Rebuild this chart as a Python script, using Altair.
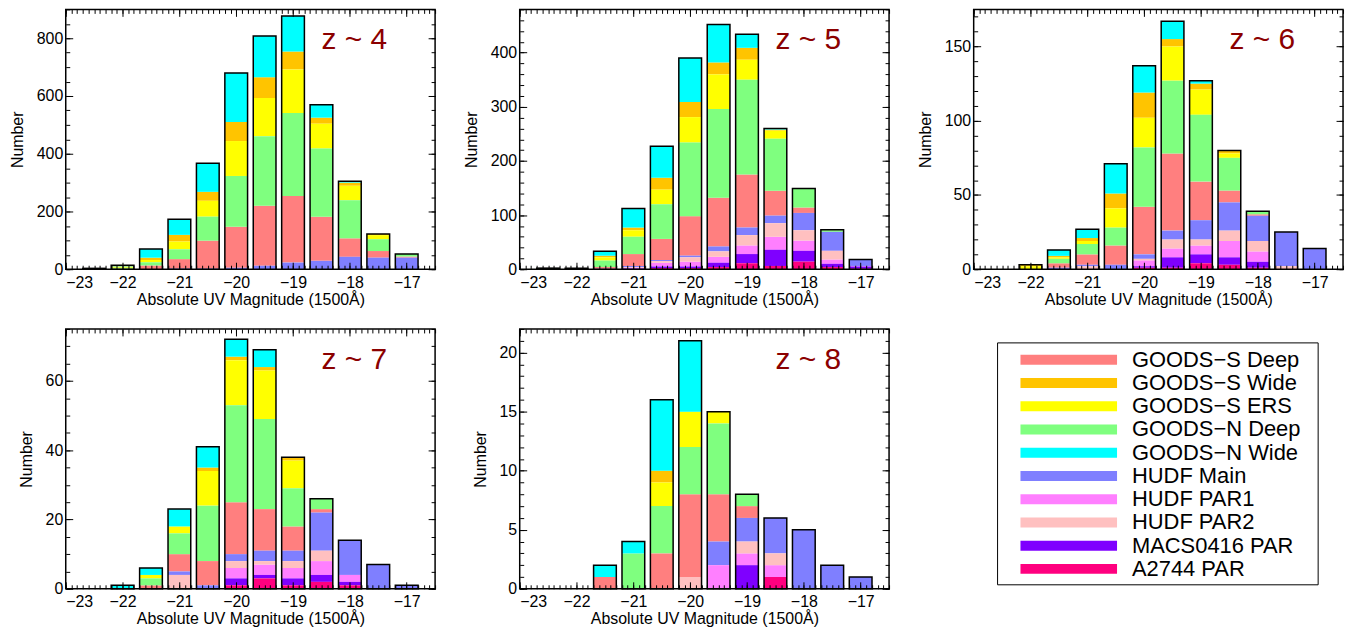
import altair as alt
import pandas as pd

# ---------------- data ----------------
SURVEYS = ["GOODS−S Deep", "GOODS−S Wide", "GOODS−S ERS", "GOODS−N Deep", "GOODS−N Wide",
           "HUDF Main", "HUDF PAR1", "HUDF PAR2", "MACS0416 PAR", "A2744 PAR"]
COLORS = ["#ff7f7f", "#ffc400", "#ffff00", "#7fff7f", "#00ffff",
          "#7f7fff", "#ff7fff", "#ffc0c0", "#7f00ff", "#ff007f"]
# stacking order, bottom to top
STACK_ORDER = ["A2744 PAR", "MACS0416 PAR", "HUDF PAR1", "HUDF PAR2", "HUDF Main",
               "GOODS−S Deep", "GOODS−N Deep", "GOODS−S ERS", "GOODS−S Wide", "GOODS−N Wide"]

MAGS = [-22.5, -22.0, -21.5, -21.0, -20.5, -20.0, -19.5, -19.0, -18.5, -18.0, -17.5, -17.0]

Z4 = {
    "GOODS−S Deep": [1, 2, 13, 33, 97, 142, 208, 231, 153, 64, 23, 4],
    "GOODS−S Wide": [0, 2, 8, 23, 31, 66, 72, 62, 21, 11, 4, 0],
    "GOODS−S ERS":  [0, 3, 8, 27, 55, 121, 132, 151, 86, 50, 14, 0],
    "GOODS−N Deep": [2, 3, 11, 34, 83, 176, 241, 287, 236, 132, 41, 9],
    "GOODS−N Wide": [0, 4, 30, 54, 99, 170, 143, 123, 45, 5, 0, 0],
    "HUDF Main":    [0, 0, 0, 2, 2, 5, 12, 23, 29, 43, 40, 40],
}
Z5 = {
    "GOODS−S Deep": [0, 0, 3, 22, 39, 73, 90, 98, 46, 10, 0, 0],
    "GOODS−S Wide": [0, 0, 3, 5, 22, 28, 22, 22, 2, 0, 0, 0],
    "GOODS−S ERS":  [0, 0, 6, 12, 27, 47, 64, 37, 15, 0, 1, 0],
    "GOODS−N Deep": [1, 1, 12, 32, 64, 136, 164, 175, 96, 35, 3, 0],
    "GOODS−N Wide": [1, 1, 8, 35, 58, 81, 70, 25, 2, 0, 0, 0],
    "HUDF Main":    [0, 0, 0, 2, 2, 3, 9, 14, 14, 32, 35, 12],
    "HUDF PAR1":    [0, 0, 1, 2, 7, 9, 11, 16, 24, 19, 8, 1],
    "HUDF PAR2":    [0, 0, 0, 1, 3, 8, 10, 19, 25, 19, 16, 0],
    "MACS0416 PAR": [0, 0, 0, 1, 3, 3, 8, 17, 30, 20, 6, 4],
    "A2744 PAR":    [0, 0, 0, 0, 2, 2, 4, 11, 6, 14, 4, 1],
}
Z6 = {
    "GOODS−S Deep": [0, 0, 3, 7, 13, 32, 52, 26, 8, 1, 0, 0],
    "GOODS−S Wide": [0, 1, 1, 2, 10, 17, 5, 4, 2, 0, 0, 0],
    "GOODS−S ERS":  [0, 2, 1, 2, 13, 20, 23, 17, 3, 0, 0, 0],
    "GOODS−N Deep": [0, 0, 3, 7, 12, 40, 49, 45, 22, 2, 0, 0],
    "GOODS−N Wide": [0, 0, 4, 6, 20, 18, 12, 2, 0, 0, 0, 0],
    "HUDF Main":    [0, 0, 1, 1, 3, 3, 6, 13, 19, 17, 23, 14],
    "HUDF PAR1":    [0, 0, 0, 0, 0, 4, 6, 6, 11, 7, 0, 0],
    "HUDF PAR2":    [0, 0, 0, 2, 0, 1, 6, 4, 7, 7, 2, 0],
    "MACS0416 PAR": [0, 0, 0, 0, 0, 1, 7, 6, 5, 4, 0, 0],
    "A2744 PAR":    [0, 0, 0, 0, 0, 1, 1, 4, 3, 1, 0, 0],
}
Z7 = {
    "GOODS−S Deep": [0, 0, 1, 5, 7, 15, 12, 7, 1, 0, 0, 0],
    "GOODS−S Wide": [0, 0, 0, 0, 1, 1, 1, 1, 0, 0, 0, 0],
    "GOODS−S ERS":  [0, 0, 1, 2, 10, 13, 14, 8, 0, 0, 0, 0],
    "GOODS−N Deep": [0, 0, 2, 6, 16, 28, 26, 11, 3, 0, 0, 0],
    "GOODS−N Wide": [0, 1, 2, 5, 6, 5, 5, 0, 0, 0, 0, 0],
    "HUDF Main":    [0, 0, 0, 1, 1, 2, 3, 3, 11, 10, 7, 1],
    "HUDF PAR1":    [0, 0, 0, 0, 0, 3, 3, 3, 4, 2, 0, 0],
    "HUDF PAR2":    [0, 0, 0, 4, 0, 2, 1, 2, 3, 0, 0, 0],
    "MACS0416 PAR": [0, 0, 0, 0, 0, 2, 1, 2, 2, 1, 0, 0],
    "A2744 PAR":    [0, 0, 0, 0, 0, 1, 3, 1, 2, 1, 0, 0],
}
Z8 = {
    "GOODS−S Deep": [0, 0, 1, 0, 3, 7, 4, 1, 0, 0, 0, 0],
    "GOODS−S Wide": [0, 0, 0, 0, 1, 0, 0, 0, 0, 0, 0, 0],
    "GOODS−S ERS":  [0, 0, 0, 0, 2, 3, 1, 0, 0, 0, 0, 0],
    "GOODS−N Deep": [0, 0, 0, 3, 4, 4, 6, 1, 0, 0, 0, 0],
    "GOODS−N Wide": [0, 0, 1, 1, 6, 6, 0, 0, 0, 0, 0, 0],
    "HUDF Main":    [0, 0, 0, 0, 0, 0, 2, 2, 3, 5, 2, 1],
    "HUDF PAR1":    [0, 0, 0, 0, 0, 0, 2, 1, 1, 0, 0, 0],
    "HUDF PAR2":    [0, 0, 0, 0, 0, 1, 0, 1, 1, 0, 0, 0],
    "MACS0416 PAR": [0, 0, 0, 0, 0, 0, 0, 2, 0, 0, 0, 0],
    "A2744 PAR":    [0, 0, 0, 0, 0, 0, 0, 0, 1, 0, 0, 0],
}

PANEL_LABELS = ["z ~ 4", "z ~ 5", "z ~ 6", "z ~ 7", "z ~ 8"]
Y_MAX = [900, 480, 175, 75, 22]
Y_MAJOR = [[0, 200, 400, 600, 800], [0, 100, 200, 300, 400], [0, 50, 100, 150],
           [0, 20, 40, 60], [0, 5, 10, 15, 20]]
Y_MINOR_STEP = [50, 20, 10, 5, 1]
X_MAJOR = [-23, -22, -21, -20, -19, -18, -17]

# ---------------- style ----------------
FONT = "Liberation Sans"
W, H = 371, 261
MAJ, MIN = 7, 4
HALF = 0.2
X_MINOR = [round(-23 + i * 0.1, 1) for i in range(66)]


def build_df(counts):
    rows = []
    for s, vals in counts.items():
        for m, v in zip(MAGS, vals):
            if v > 0:
                rows.append({"mag": m, "survey": s, "count": v, "order": STACK_ORDER.index(s)})
    return pd.DataFrame(rows)


def tick_axis(orient, values, size):
    return alt.Axis(orient=orient, values=values, labels=False, domain=False, grid=False,
                    ticks=True, tickSize=size, offset=-size, tickColor="black",
                    tickWidth=1, title=None, zindex=2)


def panel(counts, label, ymax, ymajor, ystep):
    df = build_df(counts)
    xs = alt.Scale(domain=[-23, -16.5], nice=False, zero=False)
    ys = alt.Scale(domain=[0, ymax], nice=False, zero=True)
    y_minor = list(range(0, ymax + 1, ystep))
    base = alt.Chart(df)

    bars = base.transform_stack(
        stack="count", groupby=["mag"], sort=[alt.SortField("order")], as_=["y0", "y1"]
    ).transform_calculate(
        lo=f"datum.mag - {HALF}", hi=f"datum.mag + {HALF}"
    ).mark_rect().encode(
        x=alt.X("lo:Q", scale=xs, axis=alt.Axis(
            orient="bottom", values=X_MAJOR, ticks=False, tickSize=0, domain=False, grid=False,
            labelPadding=5, title="Absolute UV Magnitude (1500Å)", titlePadding=1)),
        x2="hi:Q",
        y=alt.Y("y0:Q", scale=ys, axis=alt.Axis(
            orient="left", values=ymajor, ticks=False, tickSize=0, domain=False, grid=False,
            labelPadding=3, title="Number", titlePadding=11)),
        y2="y1:Q",
        color=alt.Color("survey:N", scale=alt.Scale(domain=SURVEYS, range=COLORS), legend=None),
    )

    outline = base.transform_aggregate(
        total="sum(count)", groupby=["mag"]
    ).transform_calculate(
        lo=f"datum.mag - {HALF}", hi=f"datum.mag + {HALF}"
    ).mark_rect(fillOpacity=0, stroke="black", strokeWidth=1.5).encode(
        x=alt.X("lo:Q", scale=xs, axis=tick_axis("bottom", X_MAJOR, MAJ)),
        x2="hi:Q",
        y=alt.Y("total:Q", scale=ys, axis=tick_axis("left", ymajor, MAJ)),
        y2=alt.datum(0),
    )

    def ghost(xo, xv, xsz, yo, yv, ysz):
        return base.mark_point(opacity=0).encode(
            x=alt.X("mag:Q", scale=xs, axis=tick_axis(xo, xv, xsz)),
            y=alt.Y("count:Q", scale=ys, axis=tick_axis(yo, yv, ysz)),
        )

    g1 = ghost("bottom", X_MINOR, MIN, "left", y_minor, MIN)
    g2 = ghost("top", X_MAJOR, MAJ, "right", ymajor, MAJ)
    g3 = ghost("top", X_MINOR, MIN, "right", y_minor, MIN)

    text = alt.Chart(pd.DataFrame({"label": [label]})).mark_text(
        font=FONT, fontSize=30, color="#8b0000", align="left", baseline="alphabetic"
    ).encode(text="label:N", x=alt.value(257), y=alt.value(40))

    return alt.layer(bars, outline, g1, g2, g3, text).resolve_axis(
        x="independent", y="independent"
    ).properties(width=W, height=H)


panels = [panel(c, l, m, mj, st) for c, l, m, mj, st in
          zip([Z4, Z5, Z6, Z7, Z8], PANEL_LABELS, Y_MAX, Y_MAJOR, Y_MINOR_STEP)]

# ---------------- legend panel ----------------
leg_df = pd.DataFrame({"name": SURVEYS, "color": COLORS})
leg_y = alt.Y("name:N", scale=alt.Scale(type="point", domain=SURVEYS, range=[31, 241], padding=0),
              axis=None)
box = alt.Chart(pd.DataFrame({"k": [1]})).mark_rect(
    fillOpacity=0, stroke="black", strokeWidth=1
).encode(x=alt.value(24), x2=alt.value(346), y=alt.value(14), y2=alt.value(257))
swatch = alt.Chart(leg_df).mark_rule(strokeWidth=10).encode(
    x=alt.value(47), x2=alt.value(144), y=leg_y,
    color=alt.Color("name:N", scale=alt.Scale(domain=SURVEYS, range=COLORS), legend=None),
)
labels = alt.Chart(leg_df).mark_text(
    font=FONT, fontSize=22, align="left", baseline="middle", color="black"
).encode(x=alt.value(159), y=leg_y, text="name:N")
legend_panel = alt.layer(box, swatch, labels).properties(
    width=W, height=H, view=alt.ViewBackground(stroke="transparent", strokeWidth=0)
)

chart = alt.concat(*panels, legend_panel, columns=3, spacing={"row": 60, "column": 85}).properties(
    bounds="flush",
    padding={"left": 0, "top": -2, "right": 5, "bottom": 0},
).configure_view(
    stroke="black", strokeWidth=1.5
).configure_axis(
    labelFont=FONT, labelFontSize=16, labelColor="black",
    titleFont=FONT, titleFontSize=16, titleFontWeight="normal", titleColor="black",
)

chart.save("out.html", embed_options={"renderer": "svg", "actions": False})
